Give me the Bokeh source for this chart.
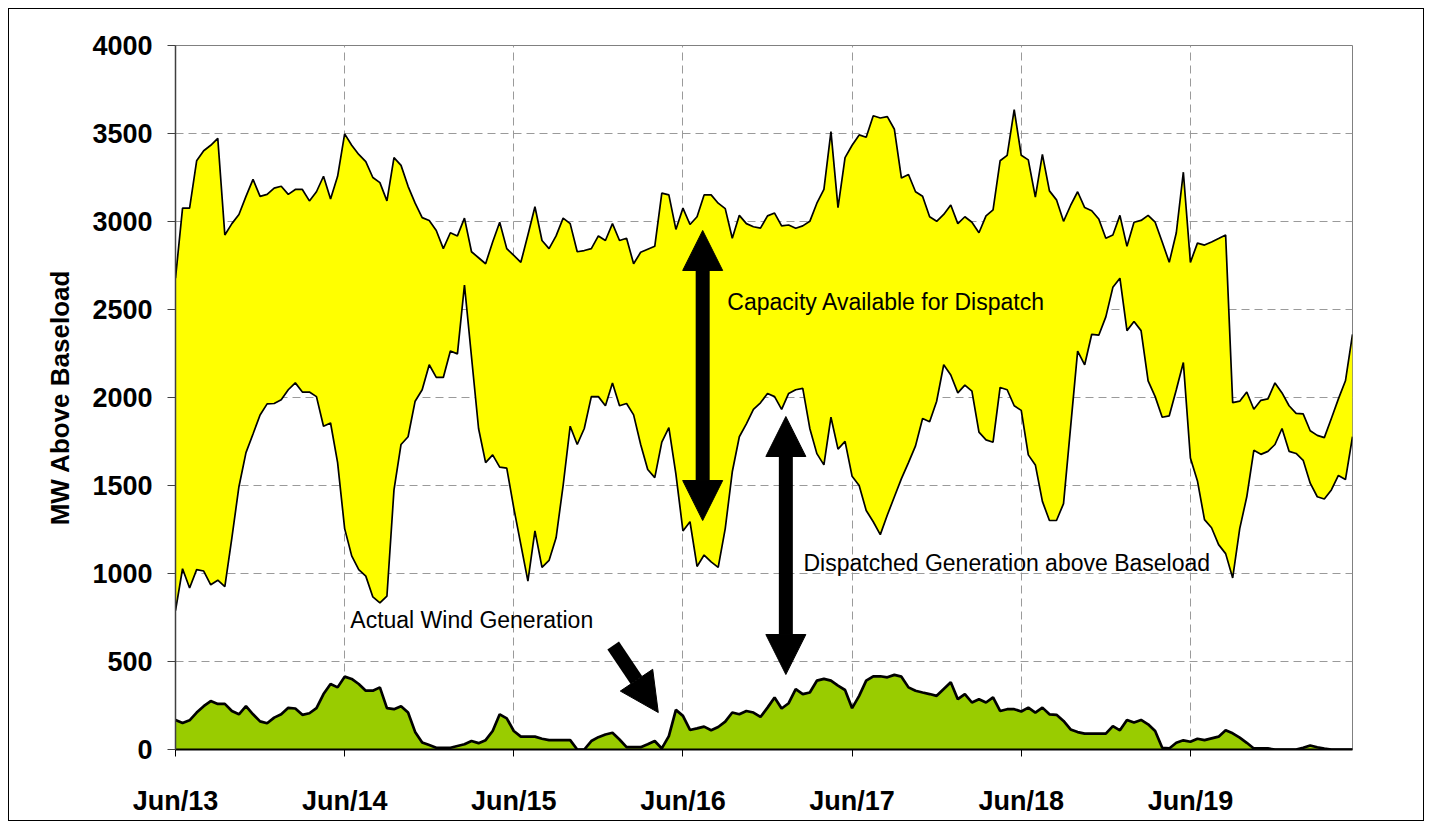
from bokeh.plotting import figure
from bokeh.models import Range1d, FixedTicker, Arrow, NormalHead, Label
from bokeh.embed import file_html
from bokeh.resources import INLINE

# ---------------- data (hourly, Jun 13 00:00 .. Jun 19 23:00) ----------------
day_ticks = [0, 24, 48, 72, 96, 120, 144]
day_labels = ["Jun/13", "Jun/14", "Jun/15", "Jun/16", "Jun/17", "Jun/18", "Jun/19"]
y_ticks = [0, 500, 1000, 1500, 2000, 2500, 3000, 3500, 4000]

available_capacity = [
    2678, 3076, 3076, 3345, 3402, 3433, 3472, 2923, 2988, 3040, 3143, 3239, 3143, 3154, 3190, 3200,
    3154, 3182, 3182, 3117, 3169, 3257, 3128, 3257, 3498, 3433, 3381, 3340, 3250, 3221, 3117, 3363,
    3319, 3200, 3104, 3022, 3006, 2949, 2846, 2936, 2918, 3019, 2828, 2794, 2760, 2884, 2996, 2846,
    2807, 2768, 2923, 3084, 2892, 2846, 2918, 3019, 2988, 2828, 2835, 2846, 2918, 2892, 2988, 2892,
    2905, 2760, 2825, 2842, 2859, 3161, 3151, 2955, 3076, 2983, 3027, 3151, 3151, 3104, 3073, 2905,
    3035, 2988, 2970, 2962, 3032, 3048, 2975, 2980, 2962, 2975, 3001, 3104, 3182, 3511, 3079, 3363,
    3433, 3492, 3479, 3601, 3588, 3596, 3524, 3247, 3267, 3169, 3143, 3027, 3001, 3040, 3094, 2988,
    3027, 2996, 2936, 3032, 3066, 3345, 3376, 3635, 3376, 3350, 3138, 3381, 3174, 3123, 3001, 3091,
    3169, 3079, 3061, 3014, 2905, 2923, 3035, 2859, 2996, 3006, 3035, 2996, 2884, 2768, 2936, 3280,
    2768, 2877, 2866, 2884, 2903, 2923, 1971, 1979, 2031, 1933, 1984, 1992, 2083, 2026, 1953, 1910,
    1907, 1811, 1785, 1772, 1881, 1992, 2095, 2359,
]

dispatched_generation = [
    789, 1027, 918, 1022, 1014, 936, 962, 926, 1203, 1493, 1687, 1793, 1901, 1964, 1966, 1987,
    2044, 2083, 2031, 2031, 2005, 1837, 1855, 1630, 1255, 1100, 1022, 985, 867, 833, 872, 1475,
    1733, 1777, 1979, 2044, 2186, 2114, 2114, 2264, 2248, 2639, 2230, 1824, 1630, 1674, 1604, 1599,
    1371, 1164, 957, 1242, 1035, 1074, 1203, 1500, 1837, 1733, 1824, 2005, 2005, 1953, 2083, 1953,
    1966, 1901, 1733, 1591, 1545, 1746, 1829, 1565, 1242, 1294, 1040, 1105, 1066, 1035, 1255, 1578,
    1777, 1850, 1933, 1970, 2023, 2005, 1933, 2023, 2044, 2052, 1824, 1681, 1617, 1888, 1707, 1751,
    1552, 1500, 1358, 1294, 1221, 1332, 1436, 1539, 1630, 1725, 1881, 1862, 1979, 2186, 2128, 2026,
    2070, 2036, 1803, 1759, 1746, 2057, 2044, 1953, 1927, 1674, 1617, 1410, 1301, 1301, 1397, 1830,
    2264, 2186, 2359, 2354, 2458, 2626, 2678, 2380, 2432, 2380, 2095, 2005, 1888, 1896, 2044, 2199,
    1656, 1526, 1306, 1260, 1164, 1113, 975, 1255, 1436, 1700, 1677, 1694, 1733, 1824, 1694, 1682,
    1643, 1513, 1436, 1423, 1475, 1557, 1534, 1777,
]

actual_wind = [
    168, 151, 166, 210, 246, 275, 259, 259, 219, 200, 246, 200, 160, 149, 181, 200,
    237, 233, 197, 206, 235, 315, 372, 353, 414, 401, 372, 334, 334, 353, 235, 229,
    246, 210, 100, 40, 25, 10, 10, 10, 20, 30, 48, 36, 53, 105, 200, 177,
    105, 73, 73, 73, 61, 53, 53, 53, 53, 0, 0, 48, 70, 85, 95, 57,
    13, 13, 13, 30, 48, 6, 76, 225, 191, 111, 120, 130, 109, 128, 158, 210,
    200, 219, 210, 185, 238, 296, 233, 263, 343, 315, 324, 391, 401, 391, 363, 338,
    235, 305, 391, 416, 416, 410, 424, 414, 353, 334, 324, 315, 305, 344, 382, 286,
    315, 267, 286, 267, 296, 219, 229, 229, 216, 238, 210, 238, 200, 197, 162, 114,
    99, 90, 90, 90, 90, 133, 109, 168, 153, 168, 143, 105, 10, 6, 38, 52,
    44, 61, 53, 63, 73, 109, 92, 67, 38, 6, 6, 6, 0, 0, 0, 0,
    10, 23, 13, 5, 0, 0, 0, 0,
]
hours = list(range(len(available_capacity)))

FONT = "Liberation Sans"

p = figure(
    width=1414, height=811,
    x_range=Range1d(0, 167), y_range=Range1d(0, 4000),
    output_backend="svg", toolbar_location=None,
    min_border_left=166, min_border_right=71, min_border_top=36, min_border_bottom=71,
    background_fill_color="white", border_fill_color="white",
)
# outer chart border drawn just outside the figure box
p.styles = {"margin": "9px", "outline": "1px solid #000000", "outline-offset": "0px"}

p.outline_line_color = "#808080"
p.outline_line_width = 1

# grids
p.xgrid.ticker = FixedTicker(ticks=day_ticks)
p.ygrid.ticker = FixedTicker(ticks=y_ticks)
for g in (p.xgrid, p.ygrid):
    g.grid_line_color = "#9a9a9a"
    g.grid_line_dash = "8 5"
    g.grid_line_width = 1

# axes
p.xaxis.ticker = FixedTicker(ticks=day_ticks)
p.xaxis.major_label_overrides = {t: l for t, l in zip(day_ticks, day_labels)}
p.yaxis.ticker = FixedTicker(ticks=y_ticks)
for ax in (p.xaxis, p.yaxis):
    ax.major_label_text_font = FONT
    ax.major_label_text_font_style = "bold"
    ax.major_label_text_font_size = "27px"
    ax.major_label_text_color = "black"
    ax.minor_tick_line_color = None
    ax.major_tick_in = 0
p.xaxis.axis_line_color = "black"
p.xaxis.axis_line_width = 2
p.xaxis.major_tick_line_color = "black"
p.xaxis.major_tick_out = 7
p.xaxis.major_label_standoff = 29
p.yaxis.axis_line_color = "#404040"
p.yaxis.axis_line_width = 1.5
p.yaxis.major_tick_line_color = "#404040"
p.yaxis.major_tick_out = 8
p.yaxis.major_label_standoff = 15
p.yaxis.axis_label = "MW Above Baseload"
p.yaxis.axis_label_text_font = FONT
p.yaxis.axis_label_text_font_style = "bold"
p.yaxis.axis_label_text_font_size = "26px"
p.yaxis.axis_label_text_color = "black"
p.yaxis.axis_label_standoff = 14

# series
p.varea(x=hours, y1=dispatched_generation, y2=available_capacity, fill_color="#FFFF00")
p.line(hours, available_capacity, line_color="black", line_width=1.7)
p.line(hours, dispatched_generation, line_color="black", line_width=1.7)
p.varea(x=hours, y1=[0] * len(hours), y2=actual_wind, fill_color="#99CC00")
p.line(hours, actual_wind, line_color="black", line_width=2.7)

# annotations
def head(sz):
    return NormalHead(size=sz, fill_color="black", line_color="black", line_width=1)

p.add_layout(Arrow(start=head(40), end=head(40), x_start=74.8, y_start=1301, x_end=74.8, y_end=2949,
                   line_color="black", line_width=14))
p.add_layout(Arrow(start=head(40), end=head(40), x_start=86.6, y_start=426, x_end=86.6, y_end=1892,
                   line_color="black", line_width=14))
p.add_layout(Arrow(end=head(39), x_start=62.1, y_start=591, x_end=68.5, y_end=210,
                   line_color="black", line_width=14))

for txt, x, y in [("Capacity Available for Dispatch", 78.3, 2540),
                  ("Dispatched Generation above Baseload", 89.1, 1057),
                  ("Actual Wind Generation", 24.8, 733)]:
    p.add_layout(Label(x=x, y=y, text=txt, text_font=FONT, text_font_size="23px",
                       text_baseline="middle", text_align="left", text_color="black"))

open("out.html", "w").write(file_html(p, INLINE))
